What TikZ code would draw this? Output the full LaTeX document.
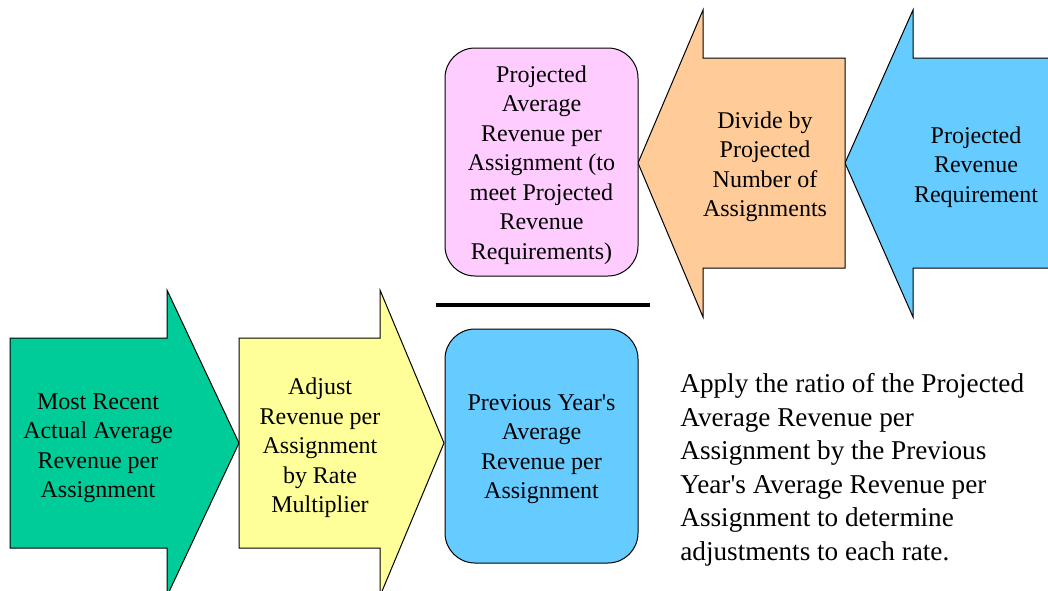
\documentclass[tikz,border=0pt]{standalone}
\usepackage{fontspec}
\setmainfont{Liberation Serif}
\definecolor{recentcolor}{RGB}{0,204,153}
\definecolor{adjustcolor}{RGB}{255,255,153}
\definecolor{prevcolor}{RGB}{102,204,255}
\definecolor{projcolor}{RGB}{255,204,255}
\definecolor{dividecolor}{RGB}{255,204,153}
\tikzset{
  flowarrow/.style={draw=black, line width=0.5pt, line join=miter},
  boxtext/.style={align=center, inner sep=0pt, font=\fontsize{12}{14.75}\selectfont},
  roundbox/.style={draw=black, line width=0.5pt, rounded corners=15pt, minimum width=96.5pt}
}
\begin{document}
\begin{tikzpicture}[x=0.5pt, y=-0.5pt]
    \useasboundingbox (0,0) rectangle (1048,590);
    \clip (0,0) rectangle (1048,590);

    % Bottom row: arrows into the previous year box
    \draw[flowarrow, fill=recentcolor] (10,338) -- (167,338) -- (167,290) -- (239,443)
        -- (167,596) -- (167,548) -- (10,548) -- cycle;
    \draw[flowarrow, fill=adjustcolor] (239,338) -- (380,338) -- (380,290) -- (444,443)
        -- (380,596) -- (380,548) -- (239,548) -- cycle;
    \node[boxtext] (recent) at (98,448) {Most Recent\\Actual Average\\Revenue per\\Assignment};
    \node[boxtext] (adjust) at (320,448) {Adjust\\Revenue per\\Assignment\\by Rate\\Multiplier};
    \node[roundbox, fill=prevcolor, minimum height=117pt,
          label={[boxtext, yshift=-1.5pt]center:{Previous Year\textquotesingle s\\Average\\Revenue per\\Assignment}}]
          (prevyear) at (541.5,446) {};

    % Ratio bar
    \coordinate (barleft) at (436,305);
    \coordinate (barright) at (650,305);
    \draw[line width=1.8pt] (barleft) -- (barright);

    % Top row: arrows pointing left
    \draw[flowarrow, fill=prevcolor] (1060,58) -- (913,58) -- (913,10) -- (845,163)
        -- (913,317) -- (913,268) -- (1060,268) -- cycle;
    \draw[flowarrow, fill=dividecolor] (845,58) -- (703,58) -- (703,10) -- (638,163)
        -- (703,317) -- (703,268) -- (845,268) -- cycle;
    \node[boxtext] (projreq) at (976,167) {Projected\\Revenue\\Requirement};
    \node[boxtext] (divide) at (765,167) {Divide by\\Projected\\Number of\\Assignments};
    \node[roundbox, fill=projcolor, minimum height=114pt,
          label={[boxtext, yshift=-1.5pt]center:{Projected\\Average\\Revenue per\\Assignment (to\\meet Projected\\Revenue\\Requirements)}}]
          (projavg) at (541.5,162) {};

    % Note
    \node[anchor=west, align=left, inner sep=0pt, font=\fontsize{13.6}{16.75}\selectfont] (note) at (680,470)
        {Apply the ratio of the Projected\\Average Revenue per\\Assignment by the Previous\\
         Year\textquotesingle s Average Revenue per\\Assignment to determine\\adjustments to each rate.};
\end{tikzpicture}
\end{document}
